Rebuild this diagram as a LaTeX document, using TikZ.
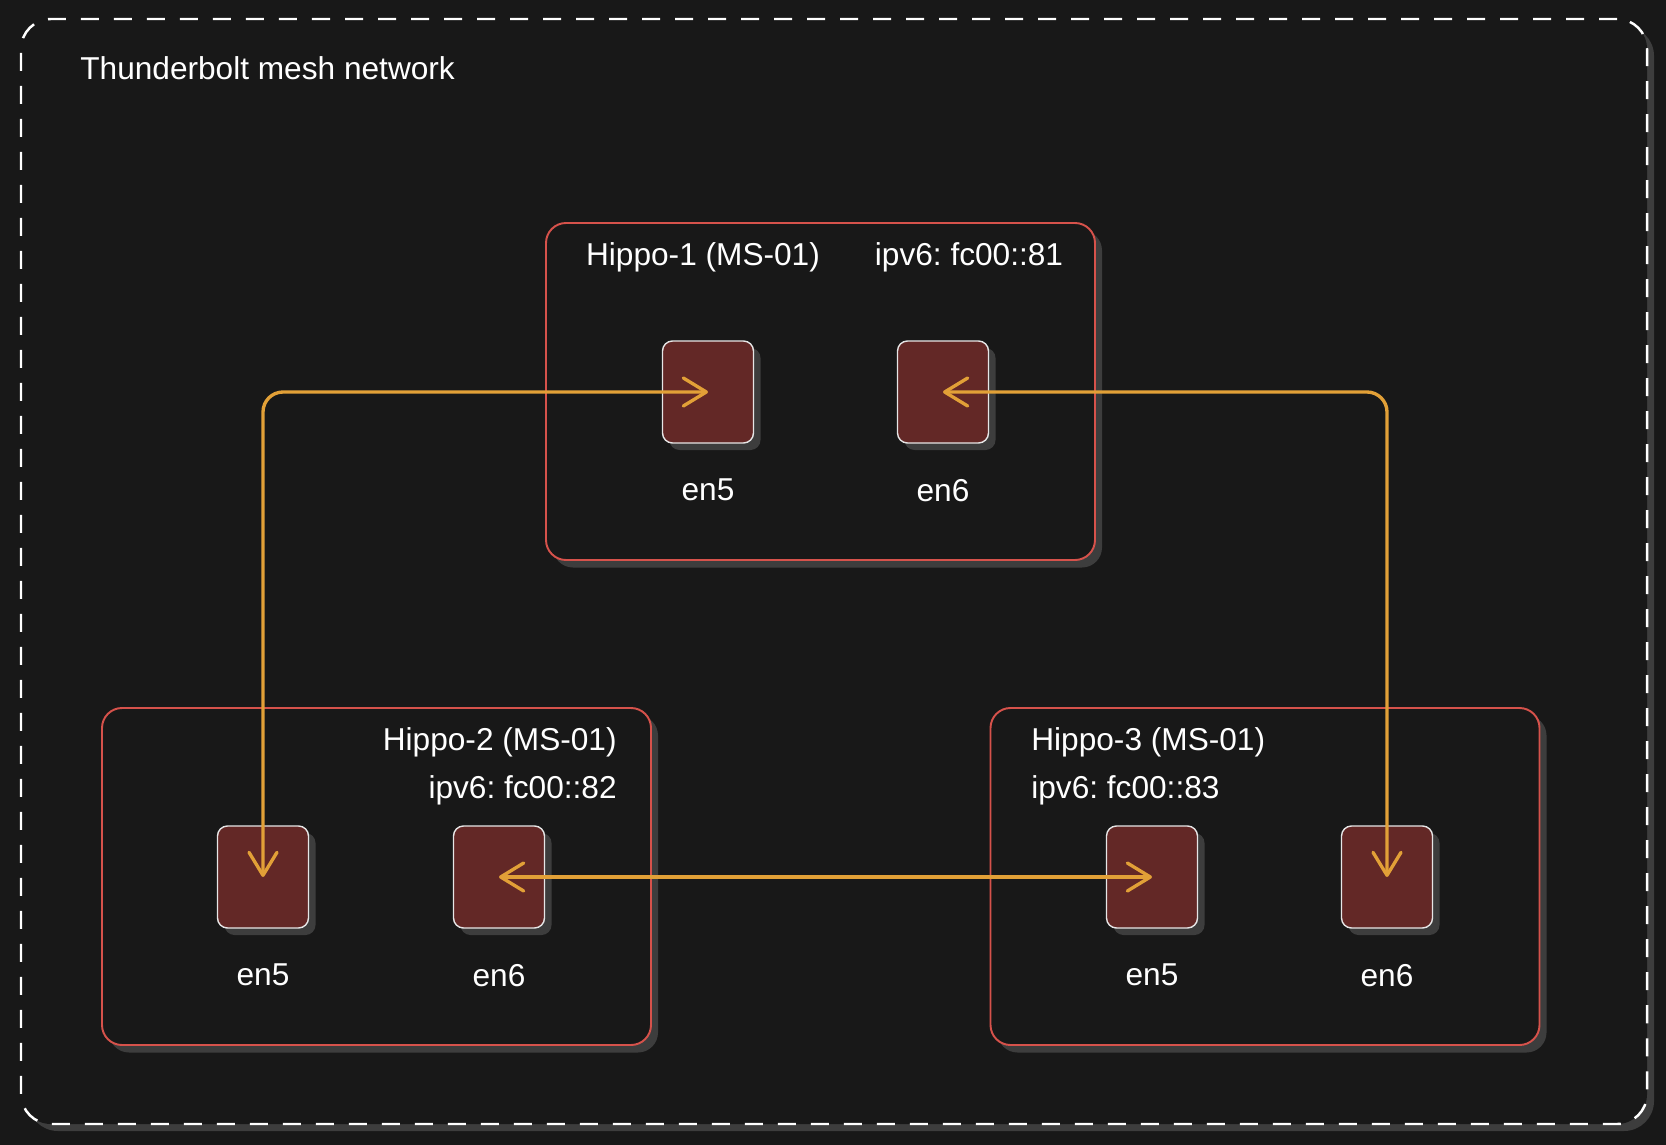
\documentclass[tikz,border=0pt]{standalone}
\usepackage{fontspec}
\setmainfont{Liberation Sans}
\usepackage{xcolor}
\usetikzlibrary{positioning, arrows.meta, shadows}
\frenchspacing

\definecolor{canvas}{HTML}{181818}
\definecolor{shadowgray}{HTML}{3D3D3D}
\definecolor{hostred}{HTML}{D6524B}
\definecolor{portfill}{HTML}{632826}
\definecolor{portedge}{HTML}{E6E6E6}
\definecolor{linkorange}{HTML}{E2A037}

\begin{document}
\begin{tikzpicture}[
    font=\fontsize{18}{22}\selectfont,
    caption/.style={text=white, inner sep=0pt},
    meshframe/.style={draw=white, line width=1.4pt, dash pattern=on 0.36cm off 0.3cm, fill=canvas, rounded corners=0.6cm, minimum width=32.52cm, minimum height=22.1cm, general shadow={shadow xshift=0.14cm, shadow yshift=-0.14cm, fill=shadowgray}},
    hostbox/.style={draw=hostred, line width=1.1pt, fill=canvas, rounded corners=0.4cm, minimum width=10.98cm, minimum height=6.74cm, general shadow={shadow xshift=0.14cm, shadow yshift=-0.15cm, fill=shadowgray}},
    portbox/.style={draw=portedge, line width=0.8pt, fill=portfill, rounded corners=0.2cm, minimum width=1.82cm, minimum height=2.04cm, general shadow={shadow xshift=0.14cm, shadow yshift=-0.14cm, fill=shadowgray}},
    link/.style={draw=linkorange, line width=1.9pt, line cap=round, rounded corners=0.4cm, >={Straight Barb[length=0.46cm, width=0.56cm, round]}, <->}
]
    % Background and page size
    \fill[canvas] (0, 0) rectangle (33.32, -22.9);
    \useasboundingbox (0, 0) rectangle (33.32, -22.9);

    % Dashed frame round the whole mesh
    \node[meshframe] (mesh) at (16.68, -11.43) {};
    \node[caption, anchor=west] (meshtitle) at (1.6, -1.36) {Thunderbolt mesh network};

    % Draw the three hosts
    \node[hostbox] (hippo1) at (16.41, -7.83) {};
    \node[hostbox] (hippo2) at (7.53, -17.53) {};
    \node[hostbox] (hippo3) at (25.30, -17.53) {};

    % Host names and addresses
    \node[caption] (hippo1name) at (14.06, -5.14) {Hippo-1 (MS-01)};
    \node[caption] (hippo1ip) at (19.38, -5.14) {ipv6: fc00::81};
    \node[caption, anchor=east] (hippo2name) at (12.34, -14.84) {Hippo-2 (MS-01)};
    \node[caption, anchor=east] (hippo2ip) at (12.34, -15.80) {ipv6: fc00::82};
    \node[caption, anchor=west] (hippo3name) at (20.62, -14.84) {Hippo-3 (MS-01)};
    \node[caption, anchor=west] (hippo3ip) at (20.62, -15.80) {ipv6: fc00::83};

    % Thunderbolt ports of each host
    \node[portbox] (h1en5) at (14.16, -7.84) {};
    \node[portbox] (h1en6) at (18.86, -7.84) {};
    \node[portbox] (h2en5) at (5.26, -17.54) {};
    \node[portbox] (h2en6) at (9.98, -17.54) {};
    \node[portbox] (h3en5) at (23.04, -17.54) {};
    \node[portbox] (h3en6) at (27.74, -17.54) {};

    % Port names under the squares
    \node[caption, below=0.7cm of h1en5] (h1en5label) {en5};
    \node[caption, below=0.7cm of h1en6] (h1en6label) {en6};
    \node[caption, below=0.7cm of h2en5] (h2en5label) {en5};
    \node[caption, below=0.7cm of h2en6] (h2en6label) {en6};
    \node[caption, below=0.7cm of h3en5] (h3en5label) {en5};
    \node[caption, below=0.7cm of h3en6] (h3en6label) {en6};

    % Thunderbolt cables between the ports
    \draw[link] (h2en5.center) |- (h1en5.center);
    \draw[link] (h1en6.center) -| (h3en6.center);
    \draw[link] (h2en6.center) -- (h3en5.center);
\end{tikzpicture}
\end{document}
